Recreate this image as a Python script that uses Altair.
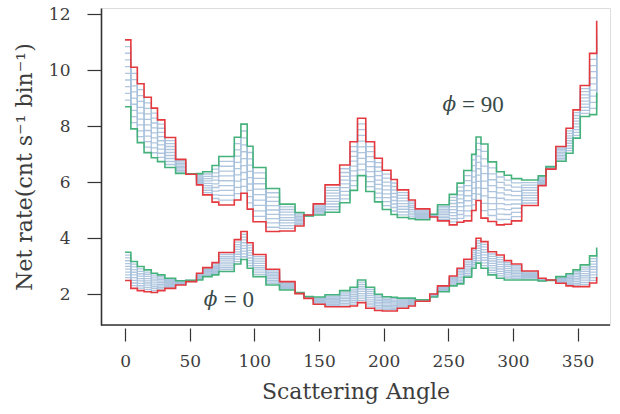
import altair as alt
import pandas as pd

# Bin edges (degrees) and step values; last value only draws the closing vertical
edges = [0, 4.5, 9.5, 14.7, 20.3, 25.1, 30.8, 39.1, 47.0, 55.3, 60.1, 67.3, 72.5, 84.5,
         89.6, 94.5, 99.0, 109.0, 119.5, 131.5, 138.4, 145.6, 154.7, 166.0, 174.0, 179.8,
         186.2, 193.0, 199.0, 205.7, 210.6, 219.3, 224.5, 235.7, 241.7, 250.8, 256.8, 262.0,
         268.1, 271.5, 275.3, 280.7, 287.3, 293.3, 298.9, 306.8, 319.6, 325.6, 333.2, 341.1,
         346.5, 352.1, 359.3, 364.8]

red_90 = [11.09, 10.11, 9.52, 9.04, 8.65, 8.23, 7.60, 6.82, 6.29, 5.91, 5.55, 5.29, 5.19, 5.37,
          5.61, 5.04, 4.59, 4.24, 4.26, 4.44, 4.83, 5.23, 5.91, 6.62, 7.45, 8.29, 7.45, 6.86,
          6.43, 6.10, 5.73, 5.37, 5.05, 4.76, 4.62, 4.48, 4.57, 4.62, 4.99, 5.35, 4.72, 4.60,
          4.48, 4.50, 4.62, 5.17, 5.88, 6.47, 7.28, 7.93, 8.59, 9.46, 10.61, 11.77]
green_90 = [8.70, 7.91, 7.42, 7.06, 6.88, 6.74, 6.53, 6.32, 6.30, 6.31, 6.38, 6.60, 6.92, 7.61,
            8.08, 7.29, 6.53, 5.78, 5.22, 4.92, 4.80, 4.83, 4.93, 5.27, 5.71, 6.24, 5.67, 5.30,
            5.03, 4.85, 4.74, 4.70, 4.66, 4.86, 5.20, 5.57, 5.97, 6.42, 7.00, 7.62, 7.37, 6.73,
            6.38, 6.25, 6.13, 6.08, 6.23, 6.56, 6.75, 7.04, 7.58, 8.35, 8.42, 9.20]
red_0 = [2.49, 2.21, 2.13, 2.09, 2.06, 2.13, 2.21, 2.33, 2.45, 2.75, 2.95, 3.13, 3.49, 3.95,
         4.24, 3.84, 3.42, 2.89, 2.45, 2.02, 1.85, 1.64, 1.55, 1.55, 1.58, 1.70, 1.50, 1.42,
         1.40, 1.40, 1.50, 1.58, 1.75, 2.01, 2.30, 2.65, 2.93, 3.25, 3.64, 4.00, 3.88, 3.52,
         3.40, 3.20, 3.08, 2.83, 2.57, 2.51, 2.39, 2.30, 2.27, 2.27, 2.40, 2.62]
green_0 = [3.50, 3.17, 2.99, 2.87, 2.75, 2.69, 2.57, 2.48, 2.50, 2.51, 2.63, 2.69, 2.81, 3.08,
           3.24, 2.93, 2.63, 2.33, 2.15, 2.06, 1.92, 1.90, 1.98, 2.13, 2.25, 2.51, 2.25, 2.00,
           1.91, 1.89, 1.86, 1.86, 1.80, 1.90, 2.09, 2.30, 2.37, 2.61, 2.93, 3.11, 2.93, 2.69,
           2.57, 2.51, 2.51, 2.51, 2.47, 2.49, 2.63, 2.73, 2.87, 3.05, 3.37, 3.67]

# parameter fraction of each drawn curve (0 = red curve, 1 = green curve)
mix = [0.0, 0.1, 0.2, 0.3, 0.4, 0.5, 0.6, 0.7, 0.8, 0.9, 1.0]

labels = [
    {"angle": 256.0, "rate": 8.77, "text": "ϕ", "part": "phi"},
    {"angle": 260.6, "rate": 8.77, "text": "= 90", "part": "rest"},
    {"angle": 71.5, "rate": 1.80, "text": "ϕ", "part": "phi"},
    {"angle": 76.3, "rate": 1.80, "text": "= 0", "part": "rest"},
]

rows = []
for phi, red, green in (("90", red_90, green_90), ("0", red_0, green_0)):
    for k, f in enumerate(mix):
        role = "red" if k == 0 else ("green" if k == len(mix) - 1 else "mid")
        for a, rv, gv in zip(edges, red, green):
            rows.append({"angle": a, "rate": rv + f * (gv - rv),
                         "series": f"{phi}-{k}", "role": role})
df = pd.DataFrame(rows)
lab = pd.DataFrame(labels)

W, H = 509, 317
FONT = "DejaVu Serif"
TXT = "#3d3d3d"
xs = alt.Scale(domain=[-18.6, 375.1], nice=False, zero=False)
ys = alt.Scale(domain=[0.90, 12.23], nice=False, zero=False)

xaxis = alt.Axis(values=[0, 50, 100, 150, 200, 250, 300, 350], title="Scattering Angle",
                 grid=False, domain=False, offset=3, tickSize=13, tickWidth=1.2,
                 tickColor="#333333", labelFont=FONT, labelFontSize=17, labelColor=TXT,
                 labelPadding=12, titleFont=FONT, titleFontSize=22, titleFontWeight="normal",
                 titleColor=TXT, titlePadding=12)
yaxis = alt.Axis(values=[2, 4, 6, 8, 10, 12], title="Net rate(cnt s⁻¹ bin⁻¹)",
                 grid=False, domain=True, domainColor="#333333", domainWidth=1.6,
                 tickSize=14, tickWidth=1.2, tickColor="#333333", labelFont=FONT,
                 labelFontSize=17, labelColor=TXT, labelPadding=17, titleFont=FONT,
                 titleFontSize=22, titleFontWeight="normal", titleColor=TXT,
                 titlePadding=12)


def lines(role, color, width, opacity):
    return alt.Chart(df).transform_filter(alt.datum.role == role).mark_line(
        interpolate="step-after", color=color, strokeWidth=width, opacity=opacity
    ).encode(
        x=alt.X("angle:Q", scale=xs, axis=xaxis),
        y=alt.Y("rate:Q", scale=ys, axis=yaxis),
        detail="series:N",
        order="angle:Q",
    )


mid = lines("mid", "#a6c0da", 1.3, 0.9)
green = lines("green", "#45b27c", 1.6, 1.0)
red = lines("red", "#e4393e", 1.6, 1.0)

phi_txt = alt.Chart(lab).transform_filter(alt.datum.part == "phi").mark_text(
    align="right", baseline="middle", font="DejaVu Serif", fontSize=20,
    fontStyle="italic", color="#3a4a48"
).encode(x=alt.X("angle:Q", scale=xs), y=alt.Y("rate:Q", scale=ys), text="text:N")
rest_txt = alt.Chart(lab).transform_filter(alt.datum.part == "rest").mark_text(
    align="left", baseline="middle", font="Liberation Serif", fontSize=23, color="#3a4a48"
).encode(x=alt.X("angle:Q", scale=xs), y=alt.Y("rate:Q", scale=ys), text="text:N")

spine = alt.Chart(pd.DataFrame({"a": [0]})).mark_rule(
    color="#333333", strokeWidth=1.6
).encode(x=alt.value(0), x2=alt.value(W), y=alt.value(H))

chart = alt.layer(mid, green, red, phi_txt, rest_txt, spine).properties(
    width=W, height=H,
    autosize=alt.AutoSizeParams(type="none"),
    padding={"left": 101, "top": 8, "right": 10, "bottom": 89},
).configure_view(stroke=None).configure(background="white")

chart.save("out.html", embed_options={"renderer": "svg", "actions": False})
